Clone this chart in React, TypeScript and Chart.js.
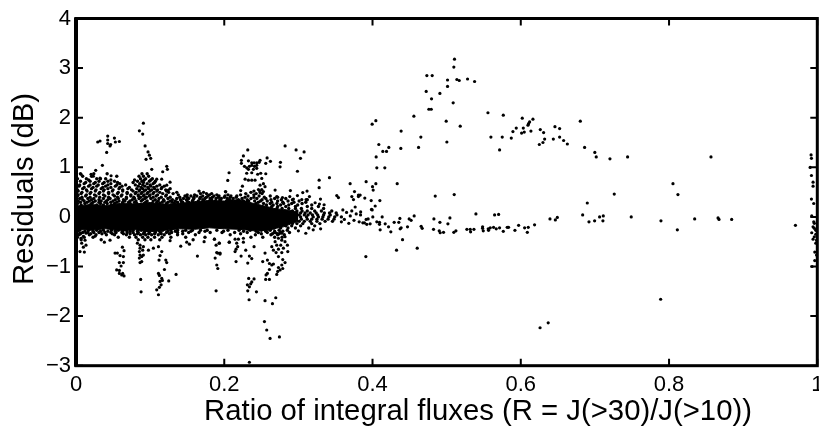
import React, { useEffect, useRef } from "react";
import { Chart, registerables } from "chart.js";

Chart.register(...registerables);

const xAxisTitle = "Ratio of integral fluxes (R = J(>30)/J(>10))";
const yAxisTitle = "Residuals (dB)";
const xTickValues = [0, 0.2, 0.4, 0.6, 0.8, 1];
const yTickValues = [4, 3, 2, 1, 0, -1, -2, -3];

// Envelope of the solid black core of the cloud
const coreRatio = [0, .02, .04, .06, .08, .1, .12, .14, .16, .18, .2, .22, .24, .26, .27, .28, .29, .3];
const coreTop = [.22, .25, .23, .27, .26, .29, .25, .27, .31, .33, .32, .35, .27, .2, .16, .15, .13, .09];
const coreBottom = [-.25, -.27, -.24, -.28, -.26, -.3, -.27, -.24, -.25, -.22, -.24, -.25, -.28, -.27, -.23, -.2, -.14, -.09];

type Row = [number, number[]];

// Dense cloud (residual, ratios)
const cloudRows: Row[] = [
  [0.87, [.006,.024,.042,.089,.096]],
  [0.82, [.009,.021,.055,.085,.091,.098]],
  [0.77, [.002,.014,.028,.033,.04,.087,.094,.103]],
  [0.745, [.017,.047,.079,.092,.101]],
  [0.72, [.006,.019,.031,.043,.052,.083,.089,.099,.107]],
  [0.695, [.013,.026,.038,.056,.077,.091,.106]],
  [0.67, [.011,.024,.036,.047,.059,.086,.096,.104]],
  [0.645, [.005,.019,.03,.043,.055,.067,.08,.09,.1,.113]],
  [0.62, [.004,.017,.028,.04,.053,.062,.084,.093,.101,.109,.119]],
  [0.595, [.011,.023,.036,.047,.059,.072,.088,.097,.105,.116]],
  [0.57, [.009,.021,.034,.043,.058,.07,.082,.09,.098,.106,.115,.127]],
  [0.545, [.002,.014,.027,.038,.05,.063,.075,.086,.094,.102,.11,.121]],
  [0.52, [.003,.015,.026,.037,.049,.063,.077,.085,.092,.1,.109,.122,.166,.24,.248]],
  [0.495, [.008,.02,.032,.044,.057,.069,.081,.089,.097,.105,.113,.125,.136,.172,.236]],
  [0.47, [.007,.019,.031,.044,.056,.069,.08,.088,.096,.104,.117,.131,.168,.176,.183,.229,.243,.251]],
  [0.445, [.003,.014,.025,.037,.05,.062,.074,.084,.092,.1,.11,.122,.138,.15,.16,.18,.19,.205,.222,.24]],
  [0.42, [.002,.013,.027,.039,.052,.061,.074,.084,.091,.099,.108,.121,.147,.155,.163,.171,.178,.186,.193,.201,.209,.217,.232,.247,.262]],
  [0.395, [.008,.019,.032,.044,.056,.068,.078,.087,.095,.104,.115,.127,.14,.15,.159,.168,.176,.184,.192,.2,.208,.216,.228,.24,.254,.272]],
  [0.37, [.005,.016,.024,.037,.046,.057,.068,.079,.085,.093,.101,.112,.124,.136,.145,.152,.159,.167,.174,.181,.189,.196,.204,.212,.224,.236,.244,.256,.268,.283]],
  [0.345, [.009,.021,.031,.043,.053,.064,.076,.09,.107,.118,.13,.141,.149,.158,.171,.183,.194,.207,.219,.231,.251,.263,.277,.292,.312]],
  [0.32, [.003,.011,.018,.026,.034,.041,.05,.058,.066,.073,.081,.088,.096,.104,.111,.119,.127,.134,.142,.15,.157,.165,.172,.18,.188,.195,.203,.21,.218,.226,.233,.241,.249,.258,.272,.286,.301]],
  [0.295, [.006,.015,.023,.031,.039,.047,.055,.063,.071,.079,.094,.109,.116,.124,.13,.137,.144,.152,.176,.192,.23,.246,.264,.279,.294,.31]],
  [0.27, [.002,.012,.021,.033,.042,.052,.063,.073,.082,.092,.103,.113,.122,.133,.142,.152,.163,.172,.183,.192,.203,.213,.223,.232,.243,.253,.262,.271,.28,.291,.305]],
  [0.24, [.007,.019,.028,.037,.048,.058,.069,.078,.087,.097,.108,.118,.128,.137,.147,.158,.257,.266,.276,.287,.299,.318]],
  [0.21, [.264,.272,.283,.296,.312,.327]],
  [0.17, [.271,.278,.287,.296,.304,.318,.334]],
  [0.12, [.292,.298,.305,.312,.322,.331,.345]],
  [0.08, [.303,.309,.316,.324,.335,.342,.351]],
  [0.04, [.301,.308,.313,.319,.326,.334,.343,.352]],
  [0, [.303,.311,.32,.327,.333,.341,.349,.358]],
  [-0.045, [.304,.312,.318,.325,.332,.34,.348]],
  [-0.09, [.301,.308,.316,.325,.336,.346]],
  [-0.135, [.292,.298,.306,.318,.329]],
  [-0.18, [.274,.283,.291,.303,.322]],
  [-0.225, [.267,.276,.286,.296,.314]],
  [-0.27, [.005,.017,.028,.037,.048,.057,.068,.077,.088,.097,.108,.117,.128,.137,.148,.157,.168,.177,.19,.205,.22,.235,.25,.262,.274,.285]],
  [-0.29, [.002,.012,.023,.033,.043,.053,.063,.073,.083,.093,.113,.124,.134,.144,.155,.174,.199,.226,.243,.256,.268,.279]],
  [-0.315, [.001,.009,.016,.024,.031,.039,.047,.054,.062,.069,.077,.084,.092,.099,.107,.114,.122,.129,.137,.152,.166,.181,.197,.214,.231,.246,.258,.268,.276,.288]],
  [-0.34, [.006,.02,.035,.049,.064,.073,.083,.091,.098,.106,.115,.126,.144,.222,.25,.265,.274]],
  [-0.36, [.004,.018,.027,.041,.052,.068,.079,.087,.094,.102,.111,.119,.137,.161,.208,.242,.263,.272,.281]],
  [-0.41, [.002,.011,.023,.057,.072,.081,.09,.097,.106,.116,.128,.148,.174,.236,.252,.268,.278]],
  [-0.46, [.007,.034,.084,.093,.101,.113,.158]],
];

const upperBranch: number[][] = [
  [.5106,3.18],[.5097,3.02],[.4733,2.85],[.4805,2.85],[.5012,2.76],[.5138,2.77],[.517,2.75],[.5282,2.78],[.5377,2.73],[.5012,2.63],
  [.4724,2.53],[.4909,2.49],[.4796,2.38],[.5088,2.3],[.476,2.17],[.4792,2.17],[.5557,2.1],[.5764,2.05],[.4558,2.03],[.602,1.99],
  [.6164,1.97],[.4045,1.94],[.4994,1.93],[.6803,1.93],[.3995,1.87],[.6119,1.915],[.6105,1.88],[.6097,1.85],[.5183,1.83],[.6461,1.82],
  [.6524,1.78],[.5939,1.79],[.6034,1.79],[.6263,1.76],[.5894,1.72],[.4386,1.73],[.6308,1.7],[.6047,1.71],[.6011,1.69],[.6137,1.73],
  [.4652,1.61],[.5597,1.61],[.575,1.61],[.5872,1.59],[.6524,1.61],[.6439,1.57],[.6322,1.57],[.6578,1.54],[.5003,1.51],[.6299,1.5],
  [.625,1.46],[.6628,1.47],[.4085,1.46],[.422,1.4],[.4621,1.4],[.4382,1.38],[.6861,1.4],[.4139,1.32],[.4189,1.32],[.5714,1.35],
  [.4049,1.21],[.4058,.99],[.4166,.99],[.3914,.71],[.4045,.67],[.4333,.67],[.4,.61],[.4009,.54],[.4846,.42],[.5102,.45],
  [.3896,.38],[.3982,.33],[.4099,.33],[.6897,.28],[.4036,.22],[.3986,.15],[.3995,.14],[.3833,.44],
  [.6999,1.3],[.7018,1.21],[.7203,1.17],[.7441,1.21],[.8566,1.21],[.8053,.67],[.812,.45],[.7261,.46],
];

const zeroBranch: number[][] = [
  [.5395,.06],[.5647,.04],[.5701,.05],[.6835,.04],[.3838,.04],[.413,0],[.4004,0],[.4562,.02],[.4369,-.03],[.4494,-.04],
  [.4521,-.07],[.5044,-.02],[.4828,-.04],[.6493,-.01],[.6394,-.04],[.6466,-.06],[.692,-.1],[.3941,-.04],[.3914,-.05],[.3869,-.12],
  [.3891,-.12],[.3923,-.15],[.3968,-.14],[.4058,-.1],[.4094,-.11],[.4094,-.15],[.4171,-.14],[.4216,-.2],[.4292,-.11],[.4355,-.11],
  [.4909,-.11],[.5017,-.14],[.4656,-.19],[.467,-.23],[.4103,-.26],[.4247,-.3],[.4373,-.24],[.4386,-.22],[.4472,-.2],[.4823,-.25],
  [.49,-.28],[.4913,-.32],[.4958,-.31],[.5097,-.31],[.5125,-.28],[.5273,-.25],[.5318,-.25],[.5323,-.3],[.5368,-.25],[.5485,-.2],
  [.5494,-.28],[.5485,-.23],[.5561,-.24],[.5565,-.27],[.5588,-.22],[.5633,-.21],[.5669,-.24],[.5714,-.22],[.5764,-.29],[.5817,-.21],
  [.5835,-.21],[.5921,-.27],[.5971,-.17],[.6052,-.22],[.6101,-.21],[.6088,-.31],[.6186,-.16],[.4405,-.46],[.4324,-.67],[.4603,-.63],
  [.391,-.8],[.7113,.02],[.7063,0],[.749,0],[.6996,-.08],[.7108,-.08],[.7891,-.08],[.8346,-.04],[.8661,-.02],[.8674,-.05],
  [.8845,-.05],[.8112,-.26],[.9705,-.17],[.7887,-1.66],[.626,-2.235],[.637,-2.135],
];

const rightEdge: number[][] = [
  [.9916,1.25],[.9921,1.18],[.9903,.997],[.9921,.835],[.9943,.7],[.9943,.62],[.9921,.36],[.9952,.27],[.9925,.02],[.9952,-.1],
  [.9943,-.2],[.996,-.13],[.9925,-.32],[.996,-.23],[.9943,-.45],[.996,-.4],[.998,-.53],[.9966,-.71],[.999,-.77],[.9966,-.88],
  [.993,-1],[.998,-.27],[.998,-.35],[.999,-.47],
];

const midClusters: number[][] = [
  [.2317,1.35],[.2258,1.23],[.2821,1.43],[.2969,1.35],[.3077,1.31],[.3028,1.18],[.2231,1.14],[.2231,1.08],[.2326,1.13],[.2578,1.19],
  [.2623,1.12],[.256,1.08],[.2758,1.1],[.2753,1.01],[.2483,1.14],[.2371,1.09],[.2402,1.09],[.2438,1.09],[.247,1.1],[.2272,1.02],
  [.2303,.99],[.2339,1.02],[.2371,1.04],[.2407,1.02],[.2438,1.04],[.2326,.96],[.2393,.96],[.2438,.98],[.2303,.88],[.2371,.89],
  [.2451,.86],[.2492,.88],[.256,.87],[.2065,.89],[.2987,.92],[.2047,.735],[.2281,.76],[.2326,.74],[.2371,.74],[.2415,.74],
  [.2506,.775],[.2528,.67],[.2483,.64],[.255,.61],[.2461,.55],[.2506,.55],[.2483,.49],[.2528,.51],[.2245,.62],[.2222,.53],
  [.202,.506],[.328,.74],[.3419,.79],[.328,.59],[.3698,.67],[.3757,.51],[.3518,.43],[.354,.39],[.3721,.41],[.3743,.35],
  [.381,.44],[.381,.41],[.3766,.2],[.2892,.53],[.2686,.54],[.2987,.43],[.3059,.49],[.3117,.52],[.3149,.41],[.2785,.39],
  [.2708,.41],[.2884,.41],[.2933,.36],[.3046,.35],[.3104,.35],[.3298,.36],[.3226,.285],[.3284,.26],[.3347,.245],[.36,.14],
  [.365,.09],[.372,.12],[.378,.06],[.384,.1],[.37,.02],[.362,-.05],[.375,-.07],[.382,-.1],[.358,-.1],[.368,-.13],
];

const leftPeaks: number[][] = [
  [.0909,1.89],[.0855,1.735],[.09,1.67],[.0932,1.43],[.0972,1.31],[.099,1.245],[.0945,1.16],[.1008,1.18],[.0428,1.63],[.0518,1.59],
  [.0293,1.51],[.0324,1.53],[.0428,1.55],[.0468,1.46],[.0428,1.48],[.0459,1.43],[.0531,1.51],[.0585,1.52],[.0414,1.3],[.0356,1.04],
  [.1224,1.02],[.1233,.96],[.117,.91],[.2016,.51],[.0266,.94],[.0068,.86],[.0203,.86],[.0234,.82],[.0324,.78],[.0473,.83],
  [.1022,.96],[.1089,.76],[.1156,.76],[.1269,.7],[.1224,.64],[.1246,.54],
];

const lowerTails: number[][] = [
  [.0054,-.33],[.0099,-.39],[.0135,-.33],[.0068,-.43],[.0122,-.47],[.0077,-.53],[.0135,-.57],[.0099,-.61],[.0054,-.7],[.0113,-.71],
  [.0257,-.39],[.0383,-.51],[.0459,-.47],[.0527,-.73],[.0558,-.73],[.0594,-.78],[.0639,-.8],[.0626,-.61],[.0648,-.68],[.0585,-.92],
  [.0639,-.92],[.0549,-1.07],[.0585,-1.08],[.0608,-.99],[.0585,-1.14],[.0617,-1.17],[.0648,-1.19],[.063,-1.14],[.0864,-.57],[.0828,-.53],
  [.0909,-.6],[.0864,-.63],[.0855,-.7],[.09,-.67],[.0864,-.77],[.0887,-.8],[.0855,-.83],[.0909,-.77],[.0864,-.92],[.0887,-.9],
  [.0873,-1.26],[.0878,-1.51],[.0977,-.67],[.1044,-.63],[.1112,-.6],[.1157,-.7],[.1134,-.78],[.112,-.87],[.1211,-.87],[.1224,-.92],
  [.1193,-1.06],[.1112,-1.14],[.1125,-1.18],[.1157,-1.24],[.1165,-1.28],[.1251,-1.29],[.1134,-1.3],[.1148,-1.37],[.1125,-1.42],[.1089,-1.47],
  [.1112,-1.57],[.135,-1.16],[.1269,-.48],[.1413,-.59],[.1494,-.51],[.153,-.55],[.1638,-.79],[.1728,-.5],[.1868,-.45],[.189,-.57],
  [.1931,-.53],[.2066,-.51],[.1913,-.73],[.1944,-.73],[.1877,-.83],[.1899,-.97],[.1913,-1.04],[.189,-1.49],[.2339,-2.93],[.2542,-2.11],
  [.2573,-2.28],[.2618,-2.45],[.2744,-2.42],[.255,-1.69],[.265,-1.75],[.2695,-1.63],[.2335,-1.67],[.2434,-1.51],[.2317,-1.49],[.233,-1.24],
  [.2402,-1.25],[.2371,-1.31],[.2357,-1.35],[.2312,-1.37],[.2339,-1.41],[.1898,-.72],[.1943,-.75],[.1934,-.53],[.1867,-.45],[.2069,-.51],
  [.2146,-.45],[.2191,-.45],[.2258,-.43],[.2168,-.53],[.2258,-.51],[.2181,-.6],[.2159,-.65],[.2146,-.7],[.229,-.67],[.2402,-.6],
  [.2227,-.79],[.2339,-.79],[.2371,-.84],[.2159,-.9],[.2317,-.93],[.255,-.73],[.2519,-.9],[.2582,-.87],[.2609,-.94],[.2641,-.97],
  [.2663,-.95],[.2609,-1.06],[.2582,-1.14],[.2564,-1.17],[.2559,-1.26],[.2609,-1.26],[.2731,-.8],[.2789,-.86],[.282,-.92],[.2776,-.97],
  [.2731,-1.02],[.2789,-1.04],[.2722,-1.1],[.2753,-1.07],[.2708,-1.16],[.2708,-.33],[.2776,-.33],[.282,-.4],[.2731,-.43],[.2776,-.47],
  [.2686,-.5],[.282,-.5],[.2641,-.6],[.2708,-.57],[.2762,-.57],[.2852,-.57],[.2663,-.67],[.2731,-.65],[.2798,-.63],[.2857,-.7],
  [.2776,-.72],[.2699,-.72],[.3,-.28],[.31,-.33],[.32,-.26],[.33,-.24],
];

const cloudPoints = cloudRows.flatMap(([y, xs]) => xs.map((x) => ({ x, y })));
const singlePoints = [...upperBranch, ...zeroBranch, ...rightEdge, ...midClusters, ...leftPeaks, ...lowerTails].map(([x, y]) => ({ x, y }));

const frame = {
  id: "frame",
  afterDatasetsDraw(chart: any) {
    const { ctx, chartArea: a, scales } = chart;
    ctx.save();
    ctx.strokeStyle = "#000";
    ctx.fillStyle = "#000";
    ctx.lineWidth = 2;
    ctx.beginPath();
    xTickValues.forEach((v) => {
      const px = scales.x.getPixelForValue(v);
      ctx.moveTo(px, a.bottom); ctx.lineTo(px, a.bottom - 7);
      ctx.moveTo(px, a.top); ctx.lineTo(px, a.top + 7);
    });
    yTickValues.forEach((v) => {
      const py = scales.y.getPixelForValue(v);
      ctx.moveTo(a.left, py); ctx.lineTo(a.left + 7, py);
      ctx.moveTo(a.right, py); ctx.lineTo(a.right - 7, py);
    });
    ctx.stroke();
    ctx.lineWidth = 3;
    ctx.strokeRect(a.left, a.top, a.right - a.left, a.bottom - a.top);
    ctx.fillRect(a.left - 2, a.top - 1, 4, a.bottom - a.top + 2);
    ctx.textAlign = "center";
    ctx.textBaseline = "alphabetic";
    ctx.font = "29.3px 'Liberation Sans'";
    ctx.fillText(xAxisTitle, 478, 420);
    ctx.translate(33, 189);
    ctx.rotate(-Math.PI / 2);
    ctx.fillText(yAxisTitle, 0, 0);
    ctx.restore();
  },
};

export default function App() {
  const ref = useRef<HTMLCanvasElement>(null);
  useEffect(() => {
    const chart = new Chart(ref.current!, {
      type: "scatter",
      data: {
        datasets: [
          { type: "line", data: coreRatio.map((x, i) => ({ x, y: coreTop[i] })), borderColor: "#000", backgroundColor: "#000", borderWidth: 1, pointRadius: 0, fill: "+1" },
          { type: "line", data: coreRatio.map((x, i) => ({ x, y: coreBottom[i] })), borderColor: "#000", backgroundColor: "#000", borderWidth: 1, pointRadius: 0, fill: false },
          { data: cloudPoints, backgroundColor: "#000", borderWidth: 0, pointRadius: 1.7, pointHoverRadius: 1.7 },
          { data: singlePoints, backgroundColor: "#000", borderWidth: 0, pointRadius: 1.6, pointHoverRadius: 1.6 },
        ],
      },
      options: {
        animation: false,
        responsive: false,
        events: [],
        layout: { padding: { top: 18.5, right: 1.5, left: 0, bottom: 0 } },
        plugins: { legend: { display: false }, tooltip: { enabled: false } },
        scales: {
          x: {
            type: "linear", min: 0, max: 1,
            afterFit: (s: any) => { s.height = 62.3; s.paddingLeft = 0; s.paddingRight = 0; },
            afterBuildTicks: (s: any) => { s.ticks = xTickValues.map((value) => ({ value })); },
            grid: { display: false, drawTicks: false }, border: { display: false },
            ticks: {
              color: "#000", padding: 6, maxRotation: 0, autoSkip: false,
              font: { family: "'Liberation Sans'", size: 22 },
              callback: (v: any) => String(Math.round(v * 10) / 10),
            },
          },
          y: {
            type: "linear", min: -3, max: 4,
            afterFit: (s: any) => { s.width = 76; s.paddingTop = 0; s.paddingBottom = 0; },
            afterBuildTicks: (s: any) => { s.ticks = yTickValues.map((value) => ({ value })); },
            grid: { display: false, drawTicks: false }, border: { display: false },
            ticks: {
              color: "#000", padding: 5, autoSkip: false,
              font: { family: "'Liberation Sans'", size: 22 },
              callback: (v: any) => (v < 0 ? "\u2212" + Math.abs(v) : String(v)),
            },
          },
        },
      },
      plugins: [frame],
    } as any);
    return () => chart.destroy();
  }, []);
  return (
    <div style={{ position: "absolute", left: 0, top: 0, width: 819, height: 428, background: "#fff" }}>
      <canvas ref={ref} width={819} height={428} style={{ display: "block" }} />
    </div>
  );
}
